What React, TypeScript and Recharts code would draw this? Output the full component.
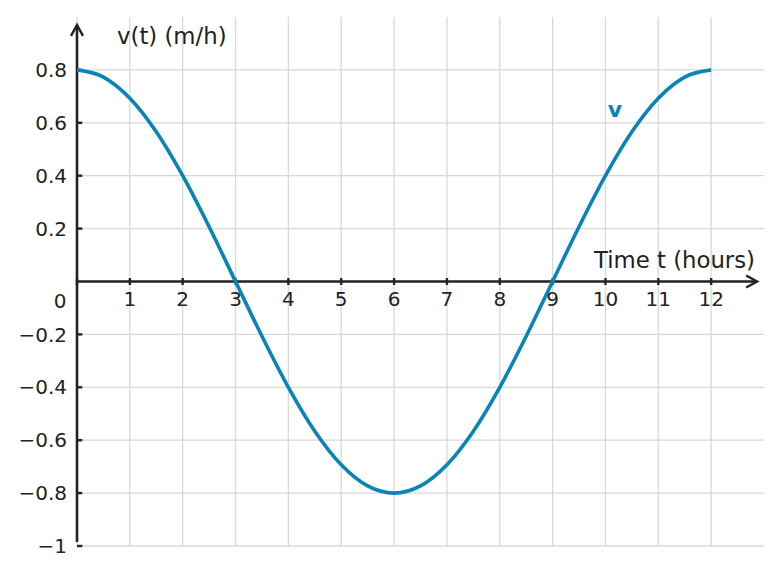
import * as React from 'react'
import {
  LineChart,
  Line,
  XAxis,
  YAxis,
  CartesianGrid,
  ReferenceLine,
  ReferenceDot
} from 'recharts'

// hours, sampled every half hour
const hours = [0, 0.5, 1, 1.5, 2, 2.5, 3, 3.5, 4, 4.5, 5, 5.5, 6, 6.5, 7, 7.5, 8, 8.5, 9, 9.5, 10, 10.5, 11, 11.5, 12]
// v(t) in m/h
const velocity = [
  0.8, 0.773, 0.693, 0.566, 0.4, 0.207, 0, -0.207, -0.4, -0.566, -0.693, -0.773, -0.8,
  -0.773, -0.693, -0.566, -0.4, -0.207, 0, 0.207, 0.4, 0.566, 0.693, 0.773, 0.8
]

const xTicks = [0, 1, 2, 3, 4, 5, 6, 7, 8, 9, 10, 11, 12]
const xTickLabels = [1, 2, 3, 4, 5, 6, 7, 8, 9, 10, 11, 12]
const yTicks = [-1, -0.8, -0.6, -0.4, -0.2, 0.2, 0.4, 0.6, 0.8]

const data = hours.map((t, i) => ({ t, v: velocity[i] }))

const BLUE = '#0884b6'
const INK = '#222222'
const GRID = '#d8d8d8'
const TICK_FONT = 20
const TITLE_FONT = 22.8

const fmt = (n: number) => (n < 0 ? '\u2212' + String(Math.abs(n)) : String(n))

// axis line with an open chevron head at its end
function arrowAxis(dir: 'right' | 'up') {
  return (p: any) => {
    const { x1, y1, x2, y2 } = p
    const head =
      dir === 'right'
        ? `M${x2 - 11},${y2 - 6} L${x2},${y2} L${x2 - 11},${y2 + 6}`
        : `M${x2 - 6},${y2 + 11} L${x2},${y2} L${x2 + 6},${y2 + 11}`
    return (
      <g>
        <line x1={x1} y1={y1} x2={x2} y2={y2} stroke={INK} strokeWidth={2.6} />
        <path d={head} fill="none" stroke={INK} strokeWidth={2.4} strokeLinejoin="miter" />
      </g>
    )
  }
}

const NoTick = () => <g />

export default function App(): React.ReactElement {
  return (
    <div style={{ position: 'absolute', left: 0, top: 0, fontFamily: '"DejaVu Sans", sans-serif', background: '#fff' }}>
      <LineChart width={781} height={574} data={data} margin={{ top: 17, right: 17, bottom: 0, left: 0 }}>
        <CartesianGrid stroke={GRID} strokeWidth={1.3} syncWithTicks />
        <XAxis
          dataKey="t"
          type="number"
          domain={[0, 13]}
          ticks={xTicks}
          height={28}
          tick={NoTick}
          tickLine={false}
          axisLine={false}
        />
        <YAxis
          type="number"
          domain={[-1, 1]}
          ticks={yTicks}
          width={77}
          axisLine={false}
          tickLine={false}
          tickSize={8}
          tickMargin={2}
          tickFormatter={fmt}
          tick={{ fill: INK, fontSize: TICK_FONT }}
        />

        {/* axes through the origin */}
        <ReferenceLine segment={[{ x: 0, y: 0 }, { x: 12.87, y: 0 }]} shape={arrowAxis('right')} ifOverflow="visible" />
        <ReferenceLine segment={[{ x: 0, y: -0.985 }, { x: 0, y: 0.97 }]} shape={arrowAxis('up')} ifOverflow="visible" />

        {/* small tick marks */}
        {xTicks.map((t) => (
          <ReferenceLine
            key={'xt' + t}
            segment={[{ x: t, y: -0.013 }, { x: t, y: 0.013 }]}
            stroke={INK}
            strokeWidth={2.4}
            ifOverflow="visible"
          />
        ))}
        {yTicks.map((v) => (
          <ReferenceLine
            key={'yt' + v}
            segment={[{ x: 0, y: v }, { x: 0.1, y: v }]}
            stroke={INK}
            strokeWidth={2.4}
            ifOverflow="visible"
          />
        ))}

        {/* x tick labels sit under the zero line */}
        {xTickLabels.map((t) => (
          <ReferenceDot
            key={'xl' + t}
            x={t}
            y={0}
            r={0}
            fill="none"
            stroke="none"
            label={{ value: String(t), position: 'bottom', offset: 10, fill: INK, fontSize: TICK_FONT }}
          />
        ))}
        <ReferenceDot
          x={-0.32}
          y={-0.072}
          r={0}
          fill="none"
          stroke="none"
          ifOverflow="visible"
          label={{ value: '0', position: 'center', fill: INK, fontSize: TICK_FONT }}
        />

        <ReferenceDot
          x={0.757}
          y={0.93}
          r={0}
          fill="none"
          stroke="none"
          label={{ value: 'v(t) (m/h)', position: 'right', offset: 0, fill: INK, fontSize: TITLE_FONT }}
        />
        <ReferenceDot
          x={12.83}
          y={0.081}
          r={0}
          fill="none"
          stroke="none"
          label={{ value: 'Time t (hours)', position: 'left', offset: 0, fill: INK, fontSize: TITLE_FONT }}
        />

        <Line
          type="monotone"
          dataKey="v"
          stroke={BLUE}
          strokeWidth={3.6}
          dot={false}
          isAnimationActive={false}
        />

        <ReferenceDot
          x={10.18}
          y={0.652}
          r={0}
          fill="none"
          stroke="none"
          label={{ value: 'v', position: 'center', fill: BLUE, fontSize: 22, fontWeight: 'bold' }}
        />
      </LineChart>
    </div>
  )
}
